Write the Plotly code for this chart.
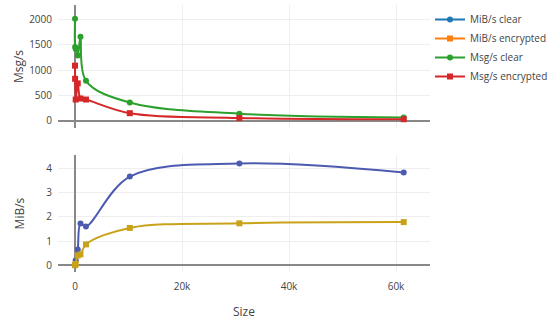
import plotly.graph_objects as go
from plotly.subplots import make_subplots

sizes = [1, 16, 128, 512, 1024, 2048, 10240, 30720, 61440]
msg_clear = [2020, 1460, 1420, 1290, 1660, 790, 360, 140, 64]
msg_encrypted = [1090, 830, 420, 740, 440, 420, 150, 55, 30]
mib_clear = [0.0, 0.02, 0.2, 0.65, 1.72, 1.6, 3.66, 4.2, 3.83]
mib_encrypted = [0.0, 0.01, 0.05, 0.4, 0.45, 0.86, 1.54, 1.73, 1.78]

fig = make_subplots(rows=2, cols=1, shared_xaxes=True, vertical_spacing=0.1)

fig.add_trace(go.Scatter(x=sizes, y=mib_clear, mode="lines+markers", name="MiB/s clear",
                         line=dict(color="#4c5bb0", shape="spline", width=2),
                         marker=dict(symbol="circle", size=6), showlegend=False), row=2, col=1)
fig.add_trace(go.Scatter(x=sizes, y=mib_encrypted, mode="lines+markers", name="MiB/s encrypted",
                         line=dict(color="#c9a21a", shape="spline", width=2),
                         marker=dict(symbol="square", size=6), showlegend=False), row=2, col=1)
# legend entries
fig.add_trace(go.Scatter(x=[None], y=[None], mode="lines+markers", name="MiB/s clear",
                         line=dict(color="#1f77b4", width=2), marker=dict(symbol="circle", size=6)), row=2, col=1)
fig.add_trace(go.Scatter(x=[None], y=[None], mode="lines+markers", name="MiB/s encrypted",
                         line=dict(color="#ff7f0e", width=2), marker=dict(symbol="square", size=6)), row=2, col=1)
fig.add_trace(go.Scatter(x=sizes, y=msg_clear, mode="lines+markers", name="Msg/s clear",
                         line=dict(color="#2ca02c", shape="spline", width=2),
                         marker=dict(symbol="circle", size=6)), row=1, col=1)
fig.add_trace(go.Scatter(x=sizes, y=msg_encrypted, mode="lines+markers", name="Msg/s encrypted",
                         line=dict(color="#d62728", shape="spline", width=2),
                         marker=dict(symbol="square", size=6)), row=1, col=1)

fig.update_layout(
    template="none",
    width=550, height=320,
    margin=dict(l=58, r=120, t=5, b=48, autoexpand=False),
    font=dict(family="Open Sans", size=10, color="#444"),
    paper_bgcolor="white", plot_bgcolor="white",
    legend=dict(x=1.0, y=1.0, font=dict(size=10), tracegroupgap=0),
)
fig.update_xaxes(range=[-3180, 66350], gridcolor="#eee", zerolinecolor="#888", zerolinewidth=2,
                 showline=False, ticks="outside", ticklen=5, tickcolor="rgba(0,0,0,0)")
fig.update_xaxes(title_text="Size", title_standoff=22, row=2, col=1)
fig.update_yaxes(gridcolor="#eee", zerolinecolor="#888", zerolinewidth=2,
                 ticks="outside", ticklen=3, tickcolor="rgba(0,0,0,0)")
fig.update_yaxes(title_text="Msg/s", range=[-145, 2290], domain=[0.539, 1], row=1, col=1)
fig.update_yaxes(title_text="MiB/s", range=[-0.28, 4.55], domain=[0, 0.438], row=2, col=1)

fig.write_html("out.html", config={"displayModeBar": False},
               post_script="document.body.style.margin='0';document.body.style.overflow='hidden';")
